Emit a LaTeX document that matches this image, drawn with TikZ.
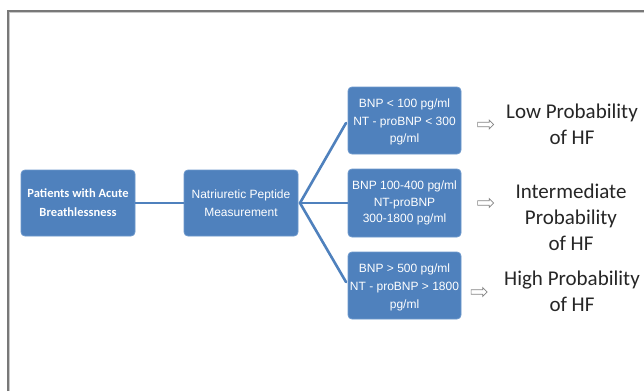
\documentclass[tikz,border=0pt]{standalone}
\usepackage{fontspec}
\setmainfont{Liberation Sans}
\newfontfamily\calib{Carlito}
\usetikzlibrary{shapes.arrows}
\definecolor{boxblue}{RGB}{79,129,189}
\definecolor{boxedge}{RGB}{108,152,204}
\definecolor{frameg}{RGB}{120,120,120}
\tikzset{
  bluebox/.style={draw=boxedge, line width=0.8pt, fill=boxblue, rounded corners=4pt},
  boxtext/.style={text=white, align=center, inner sep=0pt},
  link/.style={draw=boxblue, line width=2.6pt},
  hollowarrow/.style={single arrow, draw=frameg!90, fill=white, line width=0.7pt,
    minimum height=16pt, inner xsep=0pt, inner ysep=1.9pt, single arrow head extend=2.2pt,
    single arrow tip angle=90},
  outcome/.style={align=center, text=black!85, font=\calib\fontsize{21}{26}\selectfont, inner sep=0pt}
}
\begin{document}
\begin{tikzpicture}[x=1pt,y=-1pt]
\useasboundingbox (0,0) rectangle (644,391);
\fill[white] (0,0) rectangle (644,391);
% frame
\draw[frameg, line width=1.4pt] (8,391) -- (8,11) -- (644,11);
\draw[frameg!40, line width=0.6pt] (9.4,391) -- (9.4,12.4) -- (644,12.4);
% boxes
\path[bluebox] (21,170) rectangle (135,236);
\node[boxtext, font=\calib\bfseries\fontsize{12.5}{19}\selectfont] (pat) at (78,203) {Patients with Acute\\Breathlessness};
\coordinate (patE) at (135,203);
\path[bluebox] (184,170) rectangle (298,236);
\node[boxtext, font=\fontsize{12}{18}\selectfont] (nat) at (241,203) {Natriuretic Peptide\\Measurement};
\coordinate (natW) at (184,203);
\coordinate (natE) at (300,203);
\path[bluebox] (348,87) rectangle (461,154);
\node[boxtext, font=\fontsize{12}{17.5}\selectfont] (low) at (404.5,122) {BNP {\textless} 100 pg/ml\\NT - proBNP {\textless} 300\\pg/ml};
\path[bluebox] (348,169) rectangle (461,237);
\node[boxtext, font=\fontsize{12}{16.5}\selectfont] (mid) at (404.5,203) {BNP 100-400 pg/ml\\NT-proBNP\\300-1800 pg/ml};
\path[bluebox] (348,252) rectangle (461,319);
\node[boxtext, font=\fontsize{12}{18}\selectfont] (high) at (404.5,287) {BNP {\textgreater} 500 pg/ml\\NT - proBNP {\textgreater} 1800\\pg/ml};
% connectors
\coordinate (lowW) at (346,123);
\coordinate (midW) at (348,203);
\coordinate (highW) at (346,282);
\draw[link] (patE) -- (natW);
\draw[link, line cap=round] (lowW) -- (natE) -- (highW);
\draw[link] (natE) -- (midW);
% arrows
\node[hollowarrow] (a1) at (484.5,124.5) {};
\node[hollowarrow] (a2) at (484.5,203) {};
\node[hollowarrow] (a3) at (478,292) {};
% outcomes
\node[outcome] (o1) at (572,124) {Low Probability\\of HF};
\node[outcome] (o2) at (571,217) {Intermediate\\Probability\\of HF};
\node[outcome] (o3) at (572,291) {High Probability\\of HF};
\end{tikzpicture}
\end{document}
